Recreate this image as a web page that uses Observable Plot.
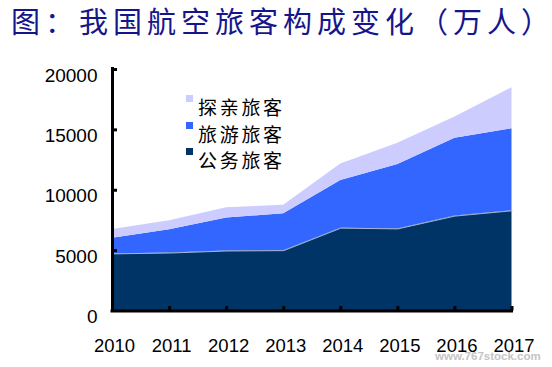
<!DOCTYPE html>
<html><head><meta charset="utf-8">
<script src="https://cdn.jsdelivr.net/npm/d3@7"></script>
<script src="https://cdn.jsdelivr.net/npm/@observablehq/plot@0.6"></script>
<style>
body{margin:0;background:#fff;}
#wrap{position:relative;width:552px;height:367px;overflow:hidden;background:#fff;}
#title{position:absolute;left:11px;top:6px;font-family:"Noto Sans CJK SC";font-size:29px;line-height:29px;letter-spacing:5px;color:#16168c;white-space:nowrap;}
#title span{letter-spacing:0;}
#chart{position:absolute;left:0;top:45px;}
.sq{position:absolute;width:7px;height:7px;}
.lt{position:absolute;font-family:"Noto Sans CJK SC";font-size:19px;line-height:20px;letter-spacing:2.7px;color:#000;white-space:nowrap;}
#wm{position:absolute;left:435px;top:349.5px;font-family:"Liberation Sans";font-weight:bold;font-size:11.5px;line-height:12px;color:#c4c4c4;white-space:nowrap;}
</style></head>
<body>
<div id="wrap">
  <div id="title">图：我国航空旅客构成变化（万人<span>）</span></div>
  <div id="chart"></div>
  <div id="wm">www.767stock.com</div>
</div>
<script>
// ---- data (万人) ----
const years = [2010, 2011, 2012, 2013, 2014, 2015, 2016, 2017];
const seriesNames = ["公务旅客", "旅游旅客", "探亲旅客"];   // stack order, bottom to top
const seriesColors = ["#003366", "#3366ff", "#ccccff"];
const business = [4730, 4800, 4970, 5000, 6860, 6800, 7860, 8300];
const tourism  = [1300, 1920, 2730, 3060, 3940, 5340, 6440, 6790];
const visiting = [720, 750, 860, 690, 1380, 1750, 1760, 3390];
const yTicks = [0, 5000, 10000, 15000, 20000];

const values = [business, tourism, visiting];
const table = [];
seriesNames.forEach((s, k) => years.forEach((yr, i) => table.push({year: yr, series: s, value: values[k][i]})));

const W = 552, H = 322, mL = 112, mR = 40.5, mT = 24, mB = 56.5;
const frameW = W - mL - mR, frameH = H - mT - mB;

const chart = Plot.plot({
  width: W, height: H,
  marginLeft: mL, marginRight: mR, marginTop: mT, marginBottom: mB,
  style: {background: "#fff", color: "#000", fontFamily: "Liberation Sans"},
  x: {domain: [2010, 2017], axis: null, label: null},
  y: {domain: [0, 20000], axis: null, label: null},
  color: {domain: seriesNames, range: seriesColors},
  marks: [
    Plot.areaY(table, {x: "year", y: "value", fill: "series", order: seriesNames, curve: "linear"}),
    Plot.lineY(table.filter(d => d.series === seriesNames[0]), {x: "year", y: "value", stroke: "#a9b8d6", strokeWidth: 1}),
    Plot.ruleY([0], {stroke: "#000", strokeWidth: 3, insetLeft: -1.5, insetRight: -1.5}),
    Plot.ruleX([2010], {stroke: "#000", strokeWidth: 3, insetTop: -2, insetBottom: -1.5}),
    Plot.tickX(years.slice(1), {x: d => d, stroke: "#000", strokeWidth: 3, insetTop: frameH - 4.5}),
    Plot.tickY(yTicks.slice(1), {y: d => d, stroke: "#000", strokeWidth: 3, insetRight: frameW - 5}),
    Plot.axisY(yTicks, {tickSize: 0, tickPadding: 15, tickFormat: d => String(d), fontSize: 19, dy: 6, label: null}),
    Plot.axisX(years, {tickSize: 0, tickPadding: 27.5, tickFormat: d => String(d), fontSize: 18.5, dx: 2, label: null})
  ]
});
document.getElementById("chart").appendChild(chart);

// legend (top to bottom: 探亲, 旅游, 公务)
const wrap = document.getElementById("wrap");
[2, 1, 0].forEach((k, row) => {
  const top = 95 + 26.5 * row;
  const sq = document.createElement("div");
  sq.className = "sq";
  sq.style.left = "186px"; sq.style.top = top + "px";
  sq.style.background = seriesColors[k];
  wrap.appendChild(sq);
  const t = document.createElement("div");
  t.className = "lt";
  t.style.left = "198px"; t.style.top = (top + 2) + "px";
  t.textContent = seriesNames[k];
  wrap.appendChild(t);
});
</script>
</body></html>
